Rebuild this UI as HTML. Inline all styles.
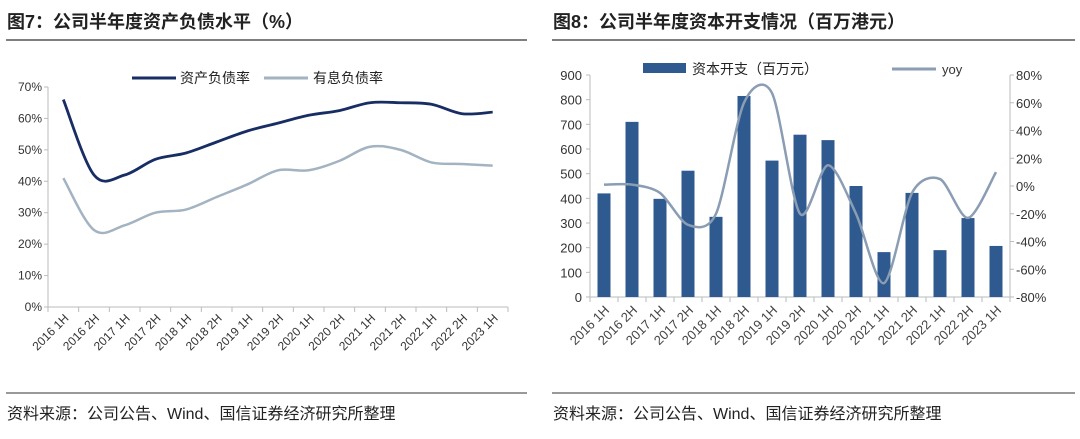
<!DOCTYPE html>
<html><head><meta charset="utf-8">
<style>
html,body{margin:0;padding:0;background:#fff;}
body{width:1080px;height:439px;overflow:hidden;font-family:"Liberation Sans","Noto Sans CJK SC",sans-serif;}
svg{position:absolute;left:0;top:0;}
</style></head>
<body>
<svg id="s" width="1080" height="439" font-family="Liberation Sans, Noto Sans CJK SC, sans-serif">
<text x="7" y="28" font-size="18" font-weight="bold" fill="#222">图7：公司半年度资产负债水平（%）</text>
<line x1="6" y1="40" x2="527" y2="40" stroke="#555" stroke-width="1.5"/>
<text x="553" y="28" font-size="18" font-weight="bold" fill="#222">图8：公司半年度资本开支情况（百万港元）</text>
<line x1="552" y1="40" x2="1075" y2="40" stroke="#555" stroke-width="1.5"/>
<line x1="6" y1="393" x2="527" y2="393" stroke="#333" stroke-width="1"/>
<text x="7" y="419" font-size="16" fill="#222">资料来源：公司公告、Wind、国信证券经济研究所整理</text>
<line x1="552" y1="393" x2="1075" y2="393" stroke="#333" stroke-width="1"/>
<text x="553" y="419" font-size="16" fill="#222">资料来源：公司公告、Wind、国信证券经济研究所整理</text>
<g id="left"></g>
<g id="right"></g>
</svg>
<script>
const categories=["2016 1H","2016 2H","2017 1H","2017 2H","2018 1H","2018 2H","2019 1H","2019 2H","2020 1H","2020 2H","2021 1H","2021 2H","2022 1H","2022 2H","2023 1H"];
const assetLiability=[66,42,42,47,49,52.5,56,58.5,61,62.5,65,65,64.5,61.5,62];
const interestDebt=[41,24.5,26,30,31,35,39,43.5,43.5,46.5,51,50,46,45.5,45];
const leftTicks=[0,10,20,30,40,50,60,70];
const capex=[420,710,398,512,325,815,553,658,636,450,182,422,190,320,207];
const yoy=[1,1,-5,-28,-20,60,67,-20,15,-20,-70,-5,5,-23,10];
const capexTicks=[0,100,200,300,400,500,600,700,800,900];
const yoyTicks=[-80,-60,-40,-20,0,20,40,60,80];

const NS="http://www.w3.org/2000/svg";
function mk(parent,tag,attrs,text){const e=document.createElementNS(NS,tag);for(const k in attrs)e.setAttribute(k,attrs[k]);if(text!==undefined)e.textContent=text;parent.appendChild(e);return e;}
function smooth(pts,t){t=t||6;let d="M"+pts[0][0]+","+pts[0][1];for(let i=0;i<pts.length-1;i++){const p0=pts[i-1]||pts[i],p1=pts[i],p2=pts[i+1],p3=pts[i+2]||p2;d+=" C"+(p1[0]+(p2[0]-p0[0])/t)+","+(p1[1]+(p2[1]-p0[1])/t)+" "+(p2[0]-(p3[0]-p1[0])/t)+","+(p2[1]-(p3[1]-p1[1])/t)+" "+p2[0]+","+p2[1];}return d;}

// LEFT CHART
(function(){
const g=document.getElementById('left');
const X0=48,X1=508,Y0=307,Y1=87,n=categories.length,bw=(X1-X0)/n;
const xc=i=>X0+bw*(i+0.5), y=v=>Y0-(v-0)/(70-0)*(Y0-Y1);
let e=mk(g,'line',{x1:X0,y1:Y1,x2:X0,y2:Y0,stroke:'#bbb'});


e=mk(g,'line',{x1:X0,y1:Y0,x2:X1,y2:Y0,stroke:'#bbb'});


leftTicks.forEach(t=>{
 mk(g,'line',{x1:X0-4,y1:y(t),x2:X0,y2:y(t),stroke:'#bbb'});
 e=mk(g,'text',{x:X0-6,y:y(t)+4,'font-size':12,'text-anchor':'end',fill:'#333'},t+'%');
 
 
});
for(let i=0;i<=n;i++)mk(g,'line',{x1:X0+bw*i,y1:Y0,x2:X0+bw*i,y2:Y0+5,stroke:'#bbb'});
categories.forEach((c,i)=>{
 const tx=xc(i)+6,ty=Y0+12;
 e=mk(g,'text',{x:tx,y:ty,'font-size':12,'text-anchor':'end',fill:'#333',transform:`rotate(-45 ${tx} ${ty})`},c);
 
 
});
e=mk(g,'path',{d:smooth(interestDebt.map((v,i)=>[xc(i),y(v)])),fill:'none',stroke:'#a3b3c2','stroke-width':2.5});


e=mk(g,'path',{d:smooth(assetLiability.map((v,i)=>[xc(i),y(v)])),fill:'none',stroke:'#172d63','stroke-width':2.8});


e=mk(g,'line',{x1:132,y1:78,x2:176,y2:78,stroke:'#172d63','stroke-width':3});


e=mk(g,'text',{x:180,y:83,'font-size':14,fill:'#222'},'资产负债率');


e=mk(g,'line',{x1:264,y1:78,x2:308,y2:78,stroke:'#a3b3c2','stroke-width':3});


e=mk(g,'text',{x:313,y:83,'font-size':14,fill:'#222'},'有息负债率');


})();

// RIGHT CHART
(function(){
const g=document.getElementById('right');
const X0=590,X1=1010,Y0=297,Y1=75,n=categories.length,bw=(X1-X0)/n;
const xc=i=>X0+bw*(i+0.5), y=v=>Y0-v/900*(Y0-Y1), yr=v=>Y0-(v+80)/160*(Y0-Y1);
let e;
e=mk(g,'line',{x1:X0,y1:Y1,x2:X0,y2:Y0,stroke:'#bbb'});


e=mk(g,'line',{x1:X1,y1:Y1,x2:X1,y2:Y0,stroke:'#bbb'});


e=mk(g,'line',{x1:X0,y1:Y0,x2:X1,y2:Y0,stroke:'#bbb'});


capexTicks.forEach(t=>{
 mk(g,'line',{x1:X0-4,y1:y(t),x2:X0,y2:y(t),stroke:'#bbb'});
 e=mk(g,'text',{x:X0-8,y:y(t)+5,'font-size':13,'text-anchor':'end',fill:'#333'},t);
 
 
});
yoyTicks.forEach(t=>{
 mk(g,'line',{x1:X1,y1:yr(t),x2:X1+4,y2:yr(t),stroke:'#bbb'});
 e=mk(g,'text',{x:X1+6,y:yr(t)+5,'font-size':13,fill:'#333'},t+'%');
 
 
});
for(let i=0;i<=n;i++)mk(g,'line',{x1:X0+bw*i,y1:Y0,x2:X0+bw*i,y2:Y0+5,stroke:'#bbb'});
categories.forEach((c,i)=>{
 const tx=xc(i)+6,ty=Y0+14;
 e=mk(g,'text',{x:tx,y:ty,'font-size':13,'text-anchor':'end',fill:'#444',transform:`rotate(-45 ${tx} ${ty})`},c);
 
 
});
capex.forEach((v,i)=>{
 e=mk(g,'rect',{x:xc(i)-6.5,y:y(v),width:13,height:Y0-y(v),fill:'#2f5a90'});
 
 
});
e=mk(g,'path',{d:smooth(yoy.map((v,i)=>[xc(i),yr(v)]),7),fill:'none',stroke:'#8a9db3','stroke-width':2.5});


e=mk(g,'rect',{x:643,y:63,width:43,height:10,fill:'#2f5a90'});


e=mk(g,'text',{x:692,y:74,'font-size':14,fill:'#222'},'资本开支（百万元）');


e=mk(g,'line',{x1:892,y1:69,x2:936,y2:69,stroke:'#8a9db3','stroke-width':3});


e=mk(g,'text',{x:942,y:74,'font-size':13,fill:'#333'},'yoy');


})();
</script>
</body></html>
